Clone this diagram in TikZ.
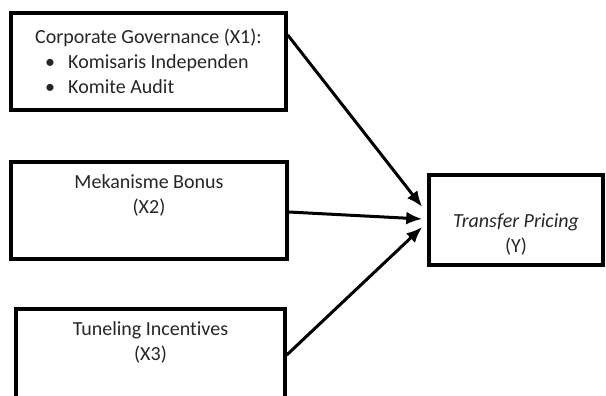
\documentclass[tikz,border=0pt]{standalone}
\usepackage{fontspec}
\setmainfont{Carlito}[Ligatures=NoCommon]
\usetikzlibrary{arrows.meta}

\tikzset{
  varbox/.style={draw=black, line width=3.5pt, rectangle, align=center,
    text=black!85, inner sep=0pt},
  panah/.style={->, line width=3pt}
}

\begin{document}
\begin{tikzpicture}[x=1pt, y=-1pt, >={Latex[length=16pt,width=13pt]},
    line join=miter, font=\fontsize{20}{25}\selectfont]

		% frame of the page
		\clip (0,0) rectangle (606,396);

		%========================
		% Left: independent variables
		%========================
		\node[varbox, minimum width=275pt, minimum height=97pt, align=left]
		  (x1) at (148.5,61.5)
		{Corporate Governance (X1):\\
		  \hspace*{10pt}\makebox[23pt][l]{\textbullet}Komisaris Independen\\
		  \hspace*{10pt}\makebox[23pt][l]{\textbullet}Komite Audit};

		\node[varbox, minimum width=276pt, minimum height=97pt] (x2) at (149,210.5)
		{Mekanisme Bonus\\(X2)\\\strut};

		\node[varbox, minimum width=269pt, minimum height=97pt] (x3) at (150.5,357.5)
		{Tuneling Incentives\\(X3)\\\strut};

		%========================
		% Right: dependent variable
		%========================
		\node[varbox, minimum width=174pt, minimum height=90pt] (y) at (516,220)
		{\strut\\\textit{Transfer Pricing}\\(Y)};

		% arrows X -> Y
		\draw[panah] ([yshift=26.5pt]x1.east) -- ([xshift=-5pt,yshift=13pt]y.west);
		\draw[panah] ([yshift=-1.5pt]x2.east) -- ([xshift=-5pt,yshift=1pt]y.west);
		\draw[panah] ([yshift=2.5pt]x3.east) -- ([xshift=-5pt,yshift=-7pt]y.west);

\end{tikzpicture}
\end{document}
